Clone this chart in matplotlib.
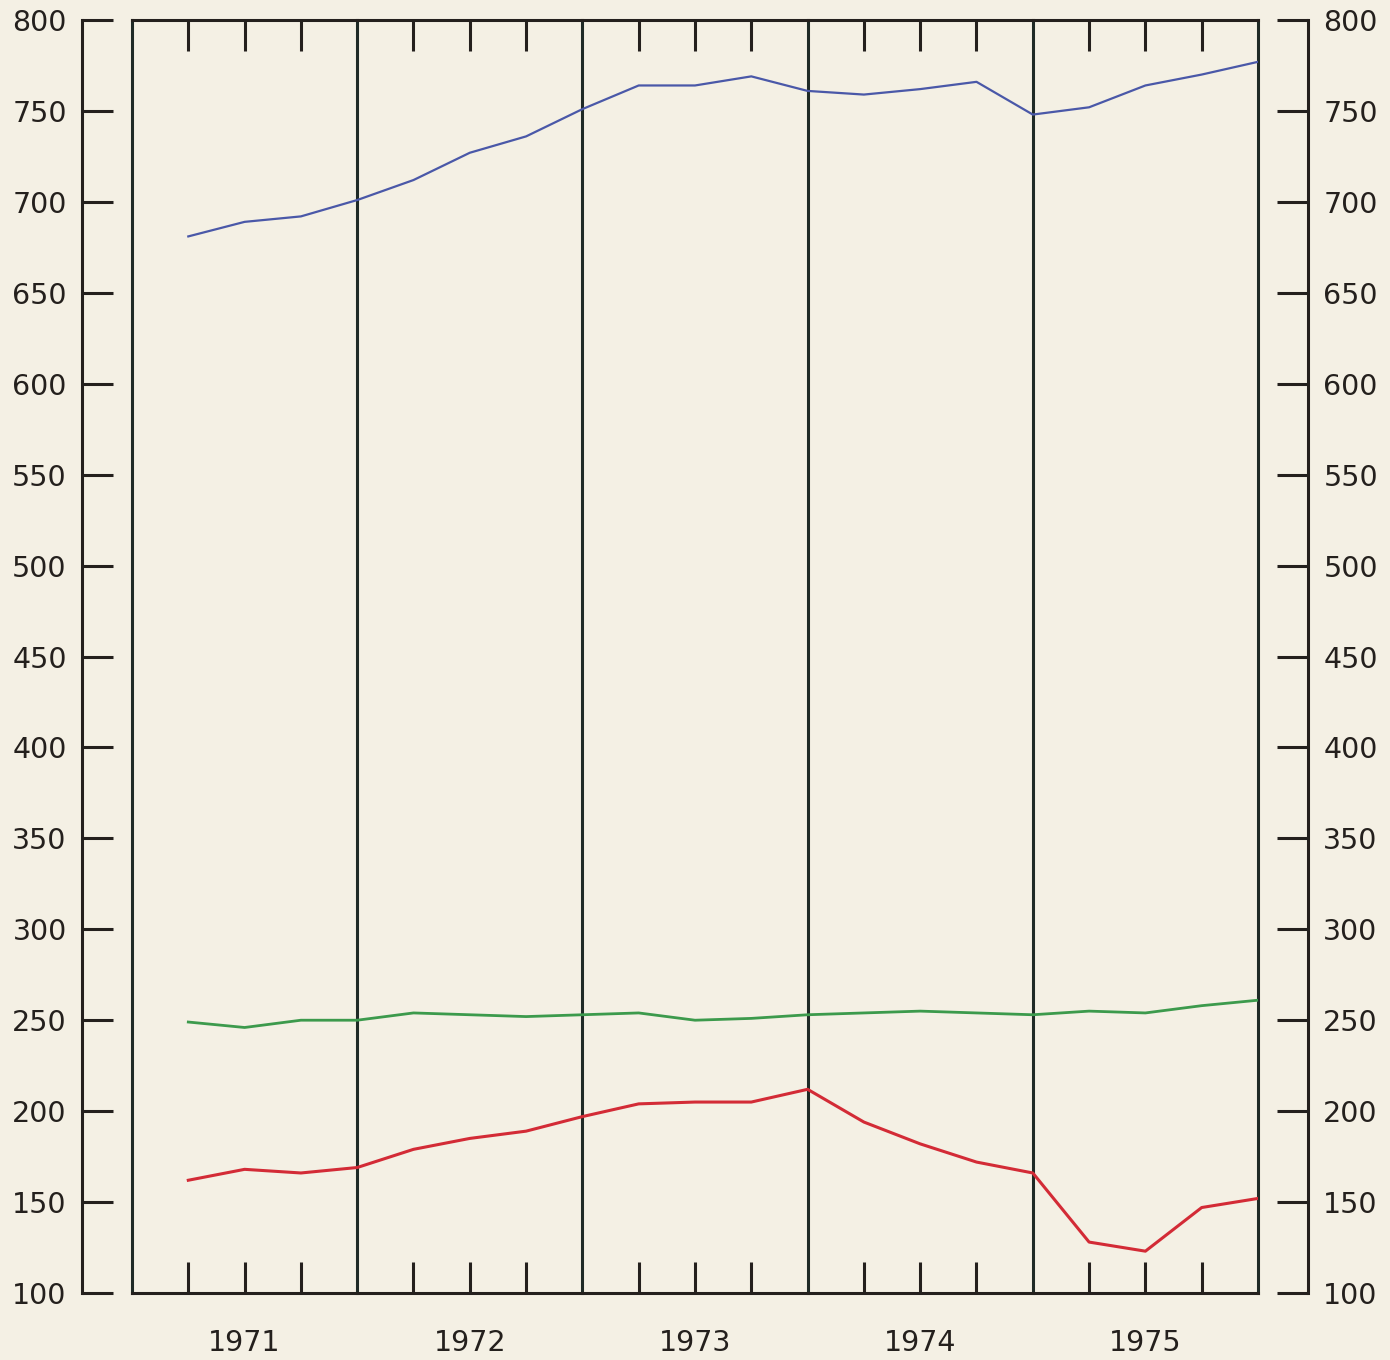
import matplotlib
matplotlib.use('Agg')
import matplotlib.pyplot as plt
from matplotlib.ticker import FixedLocator, NullFormatter, FixedFormatter

# ---- data (quarterly, plotted at quarter end) ----
years = [1971, 1972, 1973, 1974, 1975]
year_labels = ['1971', '1972', '1973', '1974', '1975']
blue_vals = [681, 689, 692, 701, 712, 727, 736, 751, 764, 764, 769, 761,
             759, 762, 766, 748, 752, 764, 770, 777]
green_vals = [249, 246, 250, 250, 254, 253, 252, 253, 254, 250, 251, 253,
              254, 255, 254, 253, 255, 254, 258, 261]
red_vals = [162, 168, 166, 169, 179, 185, 189, 197, 204, 205, 205, 212,
            194, 182, 172, 166, 128, 123, 147, 152]
y_ticks = list(range(100, 801, 50))

x = [yr + (q + 1) / 4 for yr in years for q in range(4)]

bg = '#f4f0e4'
ink = '#24201d'
line_ink = '#1f2a26'

fig = plt.figure(figsize=(13.9, 13.6), dpi=100, facecolor=bg)
ax = fig.add_axes([132 / 1390, 1 - 1293 / 1360, (1258 - 132) / 1390, (1293 - 20) / 1360])
ax.set_facecolor(bg)
ax.set_xlim(years[0], years[-1] + 1)
ax.set_ylim(y_ticks[0], y_ticks[-1])

for yb in years + [years[-1] + 1]:
    ax.axvline(yb, color=line_ink, lw=2.2, zorder=1, clip_on=False)

ax.plot(x, blue_vals, color='#4a58a8', lw=1.6, zorder=3)
ax.plot(x, green_vals, color='#3c9a4c', lw=2.0, zorder=3)
ax.plot(x, red_vals, color='#d32b36', lw=2.2, zorder=3)

for s in ['top', 'bottom', 'left', 'right']:
    ax.spines[s].set_color(ink)
    ax.spines[s].set_linewidth(2.2)
ax.spines['left'].set_position(('outward', 36))
ax.spines['right'].set_position(('outward', 36))

ax.set_yticks(y_ticks)
ax.set_yticklabels([str(v) for v in y_ticks])
ax.tick_params(axis='y', which='major', direction='in', length=22, width=2.2,
               color=ink, left=True, right=True, labelleft=True, labelright=True,
               labelsize=20.5, labelcolor=ink, pad=11)

# x axis: year labels at centres, quarter ticks inward top and bottom
ax.xaxis.remove_overlapping_locs = False
ax.xaxis.set_major_locator(FixedLocator([yr + 0.5 for yr in years]))
ax.xaxis.set_major_formatter(FixedFormatter(year_labels))
quarter_ticks = [yr + q / 4 for yr in years for q in (1, 2, 3)]
ax.xaxis.set_minor_locator(FixedLocator(quarter_ticks))
ax.xaxis.set_minor_formatter(NullFormatter())
ax.tick_params(axis='x', which='major', length=0, labelsize=20.5, labelcolor=ink, pad=26)
ax.tick_params(axis='x', which='minor', direction='in', length=22, width=2.2,
               color=ink, top=True, bottom=True)

fig.savefig('out.png', dpi=100, facecolor=bg)
